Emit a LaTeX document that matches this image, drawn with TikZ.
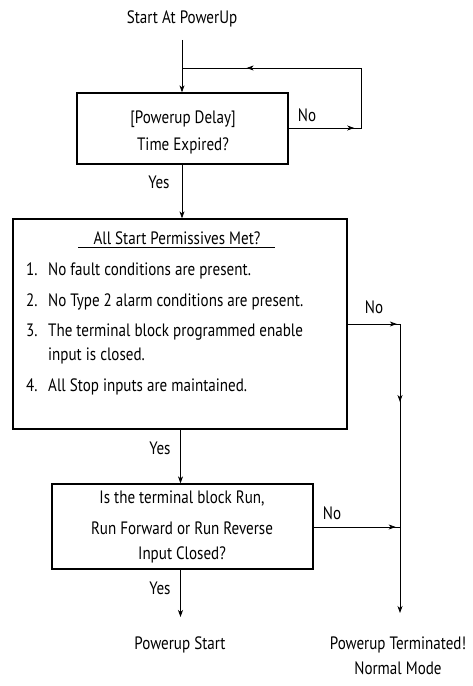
\documentclass[tikz,border=0pt]{standalone}
\usepackage{fontspec}
\setmainfont{PT Sans}[FakeStretch=0.84]
\usetikzlibrary{arrows.meta,decorations.markings}
\tikzset{
  box/.style={draw, line width=1.3pt, inner sep=0pt},
  lbl/.style={font=\fontsize{18}{21}\selectfont, inner sep=0pt, anchor=base},
  conn/.style={line width=0.8pt},
  tip/.style={-{Stealth[length=7pt,width=5pt,inset=2pt]}},
  midtip/.style={postaction={decorate},decoration={markings,mark=at position #1 with {\arrow{Stealth[length=7pt,width=5pt,inset=2pt]}}}}
}
\begin{document}
\begin{tikzpicture}[x=1bp,y=-1bp]
\useasboundingbox (0,0) rectangle (473,686);
% boxes
\node[box, minimum width=211bp, minimum height=71bp] (b1) at (182.5,128.5) {};
\node[box, minimum width=334bp, minimum height=210bp] (b2) at (180,324) {};
\node[box, minimum width=261bp, minimum height=85bp] (b3) at (182.5,526.5) {};
% texts
\node[lbl] (start) at (182,24) {Start At PowerUp};
\node[lbl] (t1a) at (183,124) {[Powerup Delay]};
\node[lbl] (t1b) at (183,150) {Time Expired?};
\node[lbl] (no1) at (307,122) {No};
\node[lbl] (yes1) at (159,188) {Yes};
\node[lbl] (t2) at (177,244) {All Start Permissives Met?};
\coordinate (ulA) at (78,247.5);
\coordinate (ulB) at (275,247.5);
\draw[line width=0.7pt] (ulA) -- (ulB);
\node[lbl, anchor=base west] (n1) at (26,275) {1.};
\node[lbl, anchor=base west] (i1) at (48,275) {No fault conditions are present.};
\node[lbl, anchor=base west] (n2) at (26,306) {2.};
\node[lbl, anchor=base west] (i2) at (48,306) {No Type 2 alarm conditions are present.};
\node[lbl, anchor=base west] (n3) at (26,336) {3.};
\node[lbl, anchor=base west] (i3) at (48,336) {The terminal block programmed enable};
\node[lbl, anchor=base west] (i3b) at (48,360) {input is closed.};
\node[lbl, anchor=base west] (n4) at (26,391) {4.};
\node[lbl, anchor=base west] (i4) at (48,391) {All Stop inputs are maintained.};
\node[lbl] (no2) at (374,313) {No};
\node[lbl] (yes2) at (160,454) {Yes};
\node[lbl] (t3a) at (182,503) {Is the terminal block Run,};
\node[lbl] (t3b) at (182,534) {Run Forward or Run Reverse};
\node[lbl] (t3c) at (182,559) {Input Closed?};
\node[lbl] (no3) at (332,519) {No};
\node[lbl] (yes3) at (160,594) {Yes};
\node[lbl] (pstart) at (180,649) {Powerup Start};
\node[lbl] (pterm) at (398,649) {Powerup Terminated!};
\node[lbl] (nmode) at (398,674) {Normal Mode};
% coordinates
\coordinate (s0) at (182,40);
\coordinate (j1) at (182,68);
\coordinate (r1) at (361.5,68);
\coordinate (r2) at (361.5,128);
\coordinate (v1) at (400,324);
\coordinate (v2) at (400,613);
\coordinate (h3) at (400,527);
% connectors
\draw[conn, tip] (s0) -- (b1.north -| s0);
\draw[conn, midtip=0.64] (r1) -- (j1);
\draw[conn, midtip=0.9] (b1.east |- r2) -- (r2);
\draw[conn] (r2) -- (r1);
\draw[conn, tip] (b1.south -| s0) -- (b2.north -| s0);
\draw[conn, tip] (b2.south -| 180.5,0) -- (b3.north -| 180.5,0);
\draw[conn, tip] (b3.south -| 180.5,0) -- (180.5,617);
\draw[conn, midtip=0.94] (b2.east |- v1) -- (v1);
\draw[conn, tip, midtip=0.27] (v1) -- (v2);
\draw[conn, midtip=0.95] (b3.east |- h3) -- (h3);
\end{tikzpicture}
\end{document}
